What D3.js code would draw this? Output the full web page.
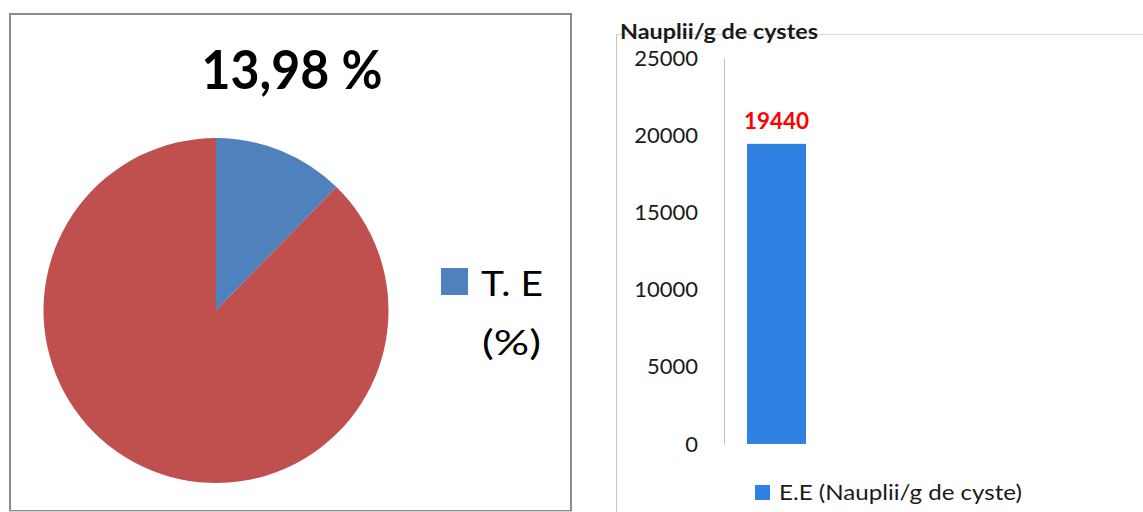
<!DOCTYPE html>
<html>
<head>
<meta charset="utf-8">
<script src="https://cdn.jsdelivr.net/npm/d3@7"></script>
<style>
  body { margin: 0; background: #fff; }
  text { font-family: Lato, "Open Sans", sans-serif; }
</style>
</head>
<body>
<svg width="1143" height="512"></svg>
<script>
// pie data (T.E share)
var pieLabels = ["T. E (%)", "reste"];
var pieValues = [12.3, 87.7];
var pieColors = ["#4f81bd", "#c0504d"];
var pieTitle = "13,98 %";

// bar data
var barCategories = ["E.E (Nauplii/g de cyste)"];
var barValues = [19440];
var yTicks = [0, 5000, 10000, 15000, 20000, 25000];
var barTitle = "Nauplii/g de cystes";

var svg = d3.select("svg");

// ---- left panel : pie ----
svg.append("rect")
    .attr("x", 10).attr("y", 14).attr("width", 561).attr("height", 497)
    .attr("fill", "none").attr("stroke", "#8c8c8c").attr("stroke-width", 2);
svg.append("line")
    .attr("x1", 9).attr("x2", 572).attr("y1", 511.5).attr("y2", 511.5)
    .attr("stroke", "#d0d0d0").attr("stroke-width", 1);

svg.append("text")
    .attr("x", 292).attr("y", 89)
    .attr("text-anchor", "middle")
    .attr("font-size", 54).attr("font-weight", "bold")
    .attr("textLength", 181).attr("lengthAdjust", "spacingAndGlyphs")
    .attr("fill", "#000")
    .text(pieTitle);

var pie = d3.pie().sort(null).value(function(d){ return d; });
var arc = d3.arc().innerRadius(0).outerRadius(172.5);

svg.append("g")
    .attr("transform", "translate(216,310.5)")
    .selectAll("path")
    .data(pie(pieValues))
    .enter().append("path")
    .attr("d", arc)
    .attr("fill", function(d, i){ return pieColors[i]; });

svg.append("rect")
    .attr("x", 441).attr("y", 268).attr("width", 27).attr("height", 27)
    .attr("fill", pieColors[0]);
svg.append("text")
    .attr("x", 481).attr("y", 296)
    .attr("font-size", 34)
    .attr("textLength", 62).attr("lengthAdjust", "spacingAndGlyphs")
    .text("T. E");
svg.append("text")
    .attr("x", 482).attr("y", 355)
    .attr("font-size", 34)
    .attr("textLength", 59).attr("lengthAdjust", "spacingAndGlyphs")
    .text("(%)");

// ---- right panel : bar ----
svg.append("line")
    .attr("x1", 616.5).attr("x2", 616.5).attr("y1", 34).attr("y2", 512)
    .attr("stroke", "#c4c4c4");
svg.append("line")
    .attr("x1", 616).attr("x2", 1143).attr("y1", 34.5).attr("y2", 34.5)
    .attr("stroke", "#d9d9d9");

var y = d3.scaleLinear().domain([0, 25000]).range([444, 58]);
var x = d3.scaleBand().domain(barCategories).range([724, 829])
    .paddingInner(0).paddingOuter(0.39);

var yAxis = d3.axisLeft(y).tickValues(yTicks).tickSize(0).tickPadding(26)
    .tickFormat(d3.format("d"));
var gy = svg.append("g").attr("transform", "translate(724,0)").call(yAxis);
gy.select(".domain").attr("stroke", "#bfbfbf");
gy.selectAll("text")
    .attr("font-family", "Lato, sans-serif")
    .attr("font-size", 22)
    .attr("fill", "#1a1a1a");

svg.selectAll(".bar")
    .data(barValues)
    .enter().append("rect")
    .attr("class", "bar")
    .attr("x", function(d, i){ return x(barCategories[i]); })
    .attr("width", x.bandwidth())
    .attr("y", function(d){ return y(d); })
    .attr("height", function(d){ return y(0) - y(d); })
    .attr("fill", "#3082e2");

svg.selectAll(".lbl")
    .data(barValues)
    .enter().append("text")
    .attr("class", "lbl")
    .attr("x", function(d, i){ return x(barCategories[i]) + x.bandwidth() / 2; })
    .attr("y", function(d){ return y(d) - 15; })
    .attr("text-anchor", "middle")
    .attr("font-size", 22).attr("font-weight", "bold")
    .attr("textLength", 65).attr("lengthAdjust", "spacingAndGlyphs")
    .attr("fill", "#ff0000")
    .text(function(d){ return d; });

svg.append("text")
    .attr("x", 620).attr("y", 39)
    .attr("font-size", 21).attr("font-weight", "bold")
    .attr("textLength", 198).attr("lengthAdjust", "spacingAndGlyphs")
    .attr("fill", "#1a1a1a")
    .text(barTitle);

svg.append("rect")
    .attr("x", 755).attr("y", 485).attr("width", 15).attr("height", 15)
    .attr("fill", "#3082e2");
svg.append("text")
    .attr("x", 779).attr("y", 500)
    .attr("font-size", 21)
    .attr("textLength", 243).attr("lengthAdjust", "spacingAndGlyphs")
    .attr("fill", "#1a1a1a")
    .text(barCategories[0]);
</script>
</body>
</html>
